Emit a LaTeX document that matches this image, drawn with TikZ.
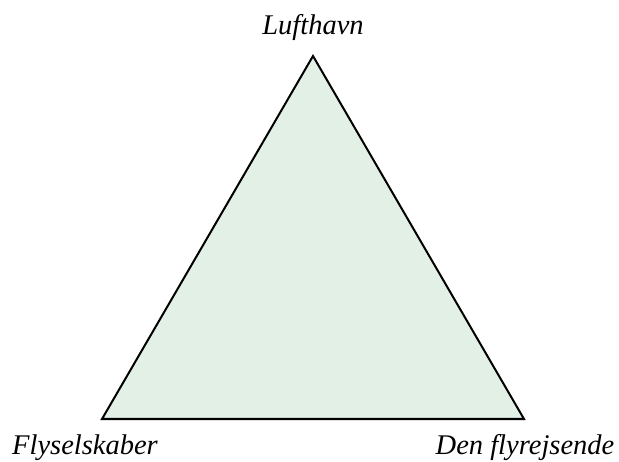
\documentclass[tikz,border=0pt]{standalone}
\usepackage{fontspec}
\setmainfont{Liberation Serif}
\definecolor{trifill}{RGB}{226,240,229}
\begin{document}
\begin{tikzpicture}[x=1pt,y=1pt,
  lbl/.style={font=\fontsize{28.5}{32}\selectfont\itshape, anchor=base, inner sep=0pt}]
\useasboundingbox (0,0) rectangle (619,461);
\coordinate (top) at (313,405);
\coordinate (bl) at (102,42);
\coordinate (br) at (524,42);
\draw[line width=2pt, line join=miter, fill=trifill] (top) -- (bl) -- (br) -- cycle;
\node[lbl] (lt) at (313,426) {Lufthavn};
\node[lbl] (lf) at (85,6) {Flyselskaber};
\node[lbl] (ld) at (525,6) {Den flyrejsende};
\end{tikzpicture}
\end{document}
